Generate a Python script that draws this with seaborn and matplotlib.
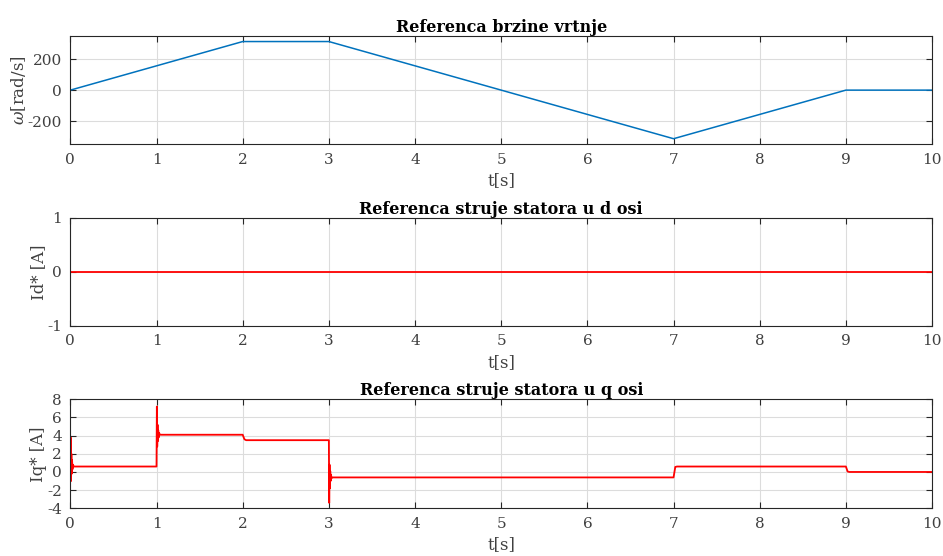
import matplotlib
matplotlib.use("Agg")
import matplotlib.pyplot as plt
import seaborn as sns

# Speed reference (rad/s)
t_omega = [0, 2, 3, 7, 9, 10]
omega = [0, 314, 314, -314, 0, 0]

# d-axis current reference
t_id = [0, 10]
id_ref = [0, 0]

# q-axis current reference (steps with transients)
t_iq = [0.000, 0.004, 0.008, 0.012, 0.016, 0.020, 0.025, 0.030, 0.040,
        1.000, 1.004, 1.008, 1.012, 1.016, 1.020, 1.025, 1.030, 1.040,
        2.000, 2.020, 2.040,
        3.000, 3.004, 3.008, 3.012, 3.016, 3.020, 3.025, 3.030, 3.040,
        7.000, 7.020, 7.040,
        9.000, 9.020, 9.040, 10.000]
iq_ref = [0.0, 3.8, -1.0, 2.0, -0.2, 1.3, 0.3, 0.8, 0.6,
          0.6, 7.2, 2.8, 5.2, 3.4, 4.6, 3.8, 4.3, 4.1,
          4.1, 3.6, 3.5,
          3.5, -3.4, 0.8, -1.8, 0.1, -1.0, -0.3, -0.7, -0.6,
          -0.6, 0.55, 0.6,
          0.6, 0.05, 0.0, 0.0]

x_ticks = list(range(0, 11))

sns.set_style("whitegrid")
plt.rcParams['font.family'] = ['DejaVu Serif']
plt.rcParams['mathtext.fontset'] = 'dejavuserif'
plt.rcParams['axes.unicode_minus'] = False

fig = plt.figure(figsize=(9.43, 5.56), dpi=100)
ax1 = fig.add_axes([0.0746, 0.7405, 0.9138, 0.1948])
ax2 = fig.add_axes([0.0746, 0.4137, 0.9138, 0.1948])
ax3 = fig.add_axes([0.0746, 0.0858, 0.9138, 0.1960])

sns.lineplot(x=t_omega, y=omega, ax=ax1, color='#0072BD', lw=1.1,
             estimator=None, sort=False)
sns.lineplot(x=t_id, y=id_ref, ax=ax2, color='red', lw=1.3,
             estimator=None, sort=False)
sns.lineplot(x=t_iq, y=iq_ref, ax=ax3, color='red', lw=1.3,
             estimator=None, sort=False)

panels = [
    (ax1, 'Referenca brzine vrtnje', r'$\omega$[rad/s]', (-350, 350), [-200, 0, 200]),
    (ax2, 'Referenca struje statora u d osi', 'Id* [A]', (-1, 1), [-1, 0, 1]),
    (ax3, 'Referenca struje statora u q osi', 'Iq* [A]', (-4, 8), [-4, -2, 0, 2, 4, 6, 8]),
]
for ax, title, ylab, ylim, yt in panels:
    ax.set_xlim(0, 10)
    ax.set_ylim(*ylim)
    ax.set_xticks(x_ticks)
    ax.set_yticks(yt)
    ax.set_title(title, fontsize=11.5, fontweight='bold', color='black', pad=3)
    ax.set_xlabel('t[s]', fontsize=12, color='#404040', labelpad=4)
    ax.set_ylabel(ylab, fontsize=12, color='#404040', labelpad=0)
    ax.grid(True, color='#dcdcdc', lw=0.8)
    ax.tick_params(direction='in', length=4, width=0.8, colors='#262626',
                   labelcolor='#404040', labelsize=11, top=True, right=True,
                   left=True, bottom=True, pad=6)
    for s in ax.spines.values():
        s.set_color('#262626')
        s.set_linewidth(0.8)

fig.savefig('out.png', dpi=100)
